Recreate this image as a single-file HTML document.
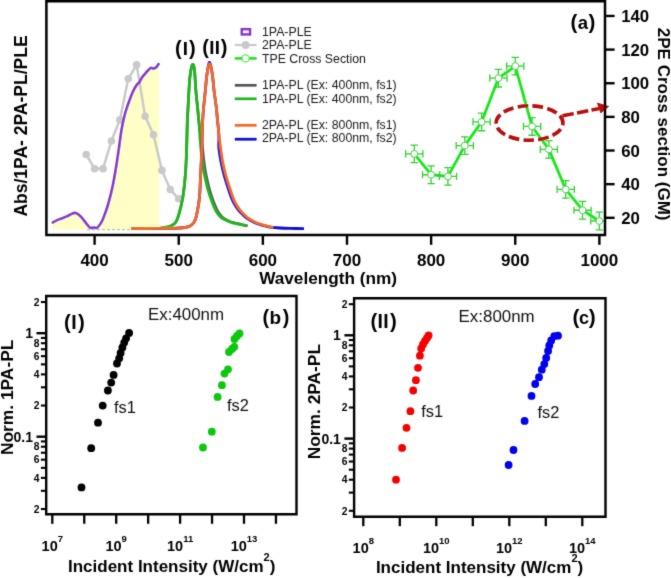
<!DOCTYPE html>
<html><head><meta charset="utf-8"><style>
html,body{margin:0;padding:0;background:#fff;width:671px;height:578px;overflow:hidden}
svg{display:block;will-change:transform}
#w{}
</style></head><body>
<div id="w"><svg width="671" height="578" viewBox="0 0 671 578"><defs><filter id="bl" x="0" y="0" width="671" height="578" filterUnits="userSpaceOnUse"><feConvolveMatrix order="3" kernelMatrix="0.02 0.08 0.02 0.08 0.6 0.08 0.02 0.08 0.02" edgeMode="duplicate" preserveAlpha="false"/></filter></defs><rect width="671" height="578" fill="#fff"/><g filter="url(#bl)"><path d="M52.80,222.60 C53.40,222.27 54.93,221.28 56.40,220.60 C57.87,219.92 59.85,219.20 61.60,218.50 C63.35,217.80 65.33,217.10 66.90,216.40 C68.47,215.70 69.70,214.88 71.00,214.30 C72.30,213.72 73.48,212.90 74.70,212.90 C75.92,212.90 77.17,213.55 78.30,214.30 C79.43,215.05 80.28,216.02 81.50,217.40 C82.72,218.78 84.22,220.90 85.60,222.60 C86.98,224.30 88.40,226.78 89.80,227.60 C91.20,228.42 92.78,227.47 94.00,227.50 C95.22,227.53 96.07,228.35 97.10,227.80 C98.13,227.25 99.25,225.58 100.20,224.20 C101.15,222.82 101.97,221.33 102.80,219.50 C103.63,217.67 104.42,215.37 105.20,213.20 C105.98,211.03 106.78,208.80 107.50,206.50 C108.22,204.20 108.82,201.98 109.50,199.40 C110.18,196.82 110.93,193.90 111.60,191.00 C112.27,188.10 112.68,186.38 113.50,182.00 C114.32,177.62 115.57,170.48 116.50,164.70 C117.43,158.92 118.27,153.08 119.10,147.30 C119.93,141.52 120.58,135.32 121.50,130.00 C122.42,124.68 123.68,119.15 124.60,115.40 C125.52,111.65 126.25,109.82 127.00,107.50 C127.75,105.18 128.12,104.12 129.10,101.50 C130.08,98.88 131.63,94.57 132.90,91.80 C134.17,89.03 135.62,86.50 136.70,84.90 C137.78,83.30 138.52,83.43 139.40,82.20 C140.28,80.97 141.00,78.97 142.00,77.50 C143.00,76.03 144.40,74.57 145.40,73.40 C146.40,72.23 147.08,71.42 148.00,70.50 C148.92,69.58 150.07,68.22 150.90,67.90 C151.73,67.58 152.37,68.55 153.00,68.60 C153.63,68.65 154.12,68.43 154.70,68.20 C155.28,67.97 155.85,67.90 156.50,67.20 C157.15,66.50 158.25,64.53 158.60,64.00 L159.2,64 L159.2,229.4 L52.3,229.4 Z" fill="#fffec6" stroke="none"/>
<path d="M87,229.6 L131,229.6" stroke="#9bbf8f" stroke-width="1.3" stroke-dasharray="3,2" fill="none" opacity="0.8"/>
<path d="M86.19,154.50 L94.60,168.80 L103.01,168.80 L111.43,141.00 L119.84,119.90 L128.25,78.80 L136.66,64.80 L145.08,116.20 L153.49,134.70 L161.90,170.40 L170.32,189.50 L178.73,198.80" stroke="#c9c9c9" stroke-width="2.5" fill="none"/>
<circle cx="86.19" cy="154.50" r="3.8" fill="#c9c9c9"/>
<circle cx="94.60" cy="168.80" r="3.8" fill="#c9c9c9"/>
<circle cx="103.01" cy="168.80" r="3.8" fill="#c9c9c9"/>
<circle cx="111.43" cy="141.00" r="3.8" fill="#c9c9c9"/>
<circle cx="119.84" cy="119.90" r="3.8" fill="#c9c9c9"/>
<circle cx="128.25" cy="78.80" r="3.8" fill="#c9c9c9"/>
<circle cx="136.66" cy="64.80" r="3.8" fill="#c9c9c9"/>
<circle cx="145.08" cy="116.20" r="3.8" fill="#c9c9c9"/>
<circle cx="153.49" cy="134.70" r="3.8" fill="#c9c9c9"/>
<circle cx="161.90" cy="170.40" r="3.8" fill="#c9c9c9"/>
<circle cx="170.32" cy="189.50" r="3.8" fill="#c9c9c9"/>
<circle cx="178.73" cy="198.80" r="3.8" fill="#c9c9c9"/>
<path d="M52.80,222.60 C53.40,222.27 54.93,221.28 56.40,220.60 C57.87,219.92 59.85,219.20 61.60,218.50 C63.35,217.80 65.33,217.10 66.90,216.40 C68.47,215.70 69.70,214.88 71.00,214.30 C72.30,213.72 73.48,212.90 74.70,212.90 C75.92,212.90 77.17,213.55 78.30,214.30 C79.43,215.05 80.28,216.02 81.50,217.40 C82.72,218.78 84.22,220.90 85.60,222.60 C86.98,224.30 88.40,226.78 89.80,227.60 C91.20,228.42 92.78,227.47 94.00,227.50 C95.22,227.53 96.07,228.35 97.10,227.80 C98.13,227.25 99.25,225.58 100.20,224.20 C101.15,222.82 101.97,221.33 102.80,219.50 C103.63,217.67 104.42,215.37 105.20,213.20 C105.98,211.03 106.78,208.80 107.50,206.50 C108.22,204.20 108.82,201.98 109.50,199.40 C110.18,196.82 110.93,193.90 111.60,191.00 C112.27,188.10 112.68,186.38 113.50,182.00 C114.32,177.62 115.57,170.48 116.50,164.70 C117.43,158.92 118.27,153.08 119.10,147.30 C119.93,141.52 120.58,135.32 121.50,130.00 C122.42,124.68 123.68,119.15 124.60,115.40 C125.52,111.65 126.25,109.82 127.00,107.50 C127.75,105.18 128.12,104.12 129.10,101.50 C130.08,98.88 131.63,94.57 132.90,91.80 C134.17,89.03 135.62,86.50 136.70,84.90 C137.78,83.30 138.52,83.43 139.40,82.20 C140.28,80.97 141.00,78.97 142.00,77.50 C143.00,76.03 144.40,74.57 145.40,73.40 C146.40,72.23 147.08,71.42 148.00,70.50 C148.92,69.58 150.07,68.22 150.90,67.90 C151.73,67.58 152.37,68.55 153.00,68.60 C153.63,68.65 154.12,68.43 154.70,68.20 C155.28,67.97 155.85,67.90 156.50,67.20 C157.15,66.50 158.25,64.53 158.60,64.00" stroke="#8334d4" stroke-width="2.6" fill="none" stroke-linejoin="round" stroke-linecap="round"/>
<path d="M160.00,228.20 C161.00,228.05 164.33,227.60 166.00,227.30 C167.67,227.00 168.83,226.82 170.00,226.40 C171.17,225.98 172.08,225.45 173.00,224.80 C173.92,224.15 174.75,223.55 175.50,222.50 C176.25,221.45 176.83,220.25 177.50,218.50 C178.17,216.75 178.83,214.42 179.50,212.00 C180.17,209.58 180.88,206.83 181.50,204.00 C182.12,201.17 182.67,198.67 183.20,195.00 C183.73,191.33 184.28,186.17 184.70,182.00 C185.12,177.83 185.38,175.33 185.70,170.00 C186.02,164.67 186.33,157.95 186.60,150.00 C186.87,142.05 187.05,129.52 187.30,122.30 C187.55,115.08 187.83,111.88 188.10,106.70 C188.37,101.52 188.57,96.38 188.90,91.20 C189.23,86.02 189.53,80.02 190.10,75.60 C190.67,71.18 191.58,65.75 192.30,64.70 C193.02,63.65 193.80,64.88 194.40,69.30 C195.00,73.72 195.38,84.97 195.90,91.20 C196.42,97.43 196.98,101.52 197.50,106.70 C198.02,111.88 198.22,115.92 199.00,122.30 C199.78,128.68 201.40,138.72 202.20,145.00 C203.00,151.28 203.28,155.77 203.80,160.00 C204.32,164.23 204.70,166.93 205.30,170.40 C205.90,173.87 206.62,177.33 207.40,180.80 C208.18,184.27 208.97,187.73 210.00,191.20 C211.03,194.67 212.30,198.27 213.60,201.60 C214.90,204.93 216.42,208.70 217.80,211.20 C219.18,213.70 220.43,215.17 221.90,216.60 C223.37,218.03 224.80,218.83 226.60,219.80 C228.40,220.77 230.25,221.63 232.70,222.40 C235.15,223.17 238.80,223.83 241.30,224.40 C243.80,224.97 246.63,225.57 247.70,225.80" stroke="#555555" stroke-width="2.6" fill="none" stroke-linejoin="round"/>
<path d="M160.00,228.20 C161.00,228.05 164.33,227.60 166.00,227.30 C167.67,227.00 168.83,226.82 170.00,226.40 C171.17,225.98 172.08,225.45 173.00,224.80 C173.92,224.15 174.75,223.55 175.50,222.50 C176.25,221.45 176.83,220.25 177.50,218.50 C178.17,216.75 178.83,214.42 179.50,212.00 C180.17,209.58 180.88,206.83 181.50,204.00 C182.12,201.17 182.67,198.67 183.20,195.00 C183.73,191.33 184.28,186.17 184.70,182.00 C185.12,177.83 185.38,175.33 185.70,170.00 C186.02,164.67 186.33,157.95 186.60,150.00 C186.87,142.05 187.05,129.52 187.30,122.30 C187.55,115.08 187.83,111.88 188.10,106.70 C188.37,101.52 188.57,96.38 188.90,91.20 C189.23,86.02 189.53,80.02 190.10,75.60 C190.67,71.18 191.58,65.75 192.30,64.70 C193.02,63.65 193.80,64.88 194.40,69.30 C195.00,73.72 195.38,84.97 195.90,91.20 C196.42,97.43 196.98,101.52 197.50,106.70 C198.02,111.88 198.48,115.92 199.00,122.30 C199.52,128.68 200.07,138.72 200.60,145.00 C201.13,151.28 201.68,155.77 202.20,160.00 C202.72,164.23 203.10,166.93 203.70,170.40 C204.30,173.87 205.02,177.33 205.80,180.80 C206.58,184.27 207.37,187.73 208.40,191.20 C209.43,194.67 210.70,198.27 212.00,201.60 C213.30,204.93 214.82,208.70 216.20,211.20 C217.58,213.70 218.83,215.17 220.30,216.60 C221.77,218.03 223.20,218.83 225.00,219.80 C226.80,220.77 228.65,221.63 231.10,222.40 C233.55,223.17 237.20,223.83 239.70,224.40 C242.20,224.97 245.03,225.57 246.10,225.80" stroke="#22b422" stroke-width="2.9" fill="none" stroke-linejoin="round"/>
<path d="M131.00,228.60 C135.83,228.57 153.17,228.45 160.00,228.40 C166.83,228.35 168.67,228.37 172.00,228.30 C175.33,228.23 177.83,228.13 180.00,228.00 C182.17,227.87 183.58,227.73 185.00,227.50 C186.42,227.27 187.42,227.02 188.50,226.60 C189.58,226.18 190.58,225.72 191.50,225.00 C192.42,224.28 193.25,223.55 194.00,222.30 C194.75,221.05 195.43,219.38 196.00,217.50 C196.57,215.62 196.93,213.42 197.40,211.00 C197.87,208.58 198.40,206.00 198.80,203.00 C199.20,200.00 199.53,196.83 199.80,193.00 C200.07,189.17 200.18,184.67 200.40,180.00 C200.62,175.33 200.87,170.00 201.10,165.00 C201.33,160.00 201.55,157.12 201.80,150.00 C202.05,142.88 202.28,129.52 202.60,122.30 C202.92,115.08 203.25,111.88 203.70,106.70 C204.15,101.52 204.78,96.38 205.30,91.20 C205.82,86.02 206.15,80.37 206.80,75.60 C207.45,70.83 208.42,63.65 209.20,62.60 C209.98,61.55 210.87,66.40 211.50,69.30 C212.13,72.20 212.57,76.35 213.00,80.00 C213.43,83.65 213.57,86.75 214.10,91.20 C214.63,95.65 215.63,101.90 216.20,106.70 C216.77,111.50 217.07,115.48 217.50,120.00 C217.93,124.52 218.57,129.18 218.80,133.80 C219.03,138.42 218.53,143.08 218.90,147.70 C219.27,152.32 220.13,156.95 221.00,161.50 C221.87,166.05 222.92,170.58 224.10,175.00 C225.28,179.42 226.72,183.83 228.10,188.00 C229.48,192.17 231.02,196.78 232.40,200.00 C233.78,203.22 234.98,205.15 236.40,207.30 C237.82,209.45 239.18,211.08 240.90,212.90 C242.62,214.72 244.48,216.60 246.70,218.20 C248.92,219.80 251.83,221.38 254.20,222.50 C256.57,223.62 258.87,224.27 260.90,224.90 C262.93,225.53 264.63,225.90 266.40,226.30 C268.17,226.70 269.23,227.02 271.50,227.30 C273.77,227.58 276.92,227.82 280.00,228.00 C283.08,228.18 286.00,228.30 290.00,228.40 C294.00,228.50 301.67,228.57 304.00,228.60" stroke="#0a0ad8" stroke-width="2.8" fill="none" stroke-linejoin="round"/>
<path d="M131.00,228.60 C135.83,228.57 153.17,228.45 160.00,228.40 C166.83,228.35 168.67,228.37 172.00,228.30 C175.33,228.23 177.83,228.13 180.00,228.00 C182.17,227.87 183.58,227.73 185.00,227.50 C186.42,227.27 187.42,227.02 188.50,226.60 C189.58,226.18 190.58,225.72 191.50,225.00 C192.42,224.28 193.25,223.55 194.00,222.30 C194.75,221.05 195.43,219.38 196.00,217.50 C196.57,215.62 196.93,213.42 197.40,211.00 C197.87,208.58 198.40,206.00 198.80,203.00 C199.20,200.00 199.53,196.83 199.80,193.00 C200.07,189.17 200.18,184.67 200.40,180.00 C200.62,175.33 200.87,170.00 201.10,165.00 C201.33,160.00 201.55,157.12 201.80,150.00 C202.05,142.88 202.28,129.52 202.60,122.30 C202.92,115.08 203.25,111.88 203.70,106.70 C204.15,101.52 204.78,96.38 205.30,91.20 C205.82,86.02 206.15,80.10 206.80,75.60 C207.45,71.10 208.42,65.25 209.20,64.20 C209.98,63.15 210.87,66.67 211.50,69.30 C212.13,71.93 212.57,76.35 213.00,80.00 C213.43,83.65 213.57,86.75 214.10,91.20 C214.63,95.65 215.63,101.90 216.20,106.70 C216.77,111.50 217.07,115.48 217.50,120.00 C217.93,124.52 218.30,129.18 218.80,133.80 C219.30,138.42 219.87,143.08 220.50,147.70 C221.13,152.32 221.73,156.95 222.60,161.50 C223.47,166.05 224.52,170.58 225.70,175.00 C226.88,179.42 228.32,183.83 229.70,188.00 C231.08,192.17 232.62,196.78 234.00,200.00 C235.38,203.22 236.58,205.15 238.00,207.30 C239.42,209.45 240.78,211.08 242.50,212.90 C244.22,214.72 246.08,216.60 248.30,218.20 C250.52,219.80 253.43,221.38 255.80,222.50 C258.17,223.62 260.47,224.27 262.50,224.90 C264.53,225.53 266.23,225.90 268.00,226.30 C269.77,226.70 272.25,227.13 273.10,227.30" stroke="#f26a24" stroke-width="2.8" fill="none" stroke-linejoin="round"/>
<defs><clipPath id="ca"><rect x="46" y="1" width="559" height="234"/></clipPath></defs><g clip-path="url(#ca)">
<path d="M414.29,153.88 L431.12,174.74 L447.95,176.42 L464.77,145.64 L481.60,121.93 L498.42,78.19 L515.25,66.08 L532.08,126.47 L548.90,149.34 L565.73,189.37 L582.55,210.23 L599.38,221.00" stroke="#18e818" stroke-width="2.8" fill="none" stroke-linejoin="round"/>
<g stroke="#30d030" stroke-width="1.3" fill="none">
<path d="M405.69,153.88 H422.89 M414.29,145.08 V162.68 M405.69,150.28 V157.48 M422.89,150.28 V157.48"/>
<path d="M410.59,145.08 H417.99 M410.59,162.68 H417.99"/>
</g>
<circle cx="414.29" cy="153.88" r="3.4" fill="#fff" stroke="#30d030" stroke-width="1.0"/>
<g stroke="#30d030" stroke-width="1.3" fill="none">
<path d="M422.52,174.74 H439.72 M431.12,165.94 V183.54 M422.52,171.14 V178.34 M439.72,171.14 V178.34"/>
<path d="M427.42,165.94 H434.82 M427.42,183.54 H434.82"/>
</g>
<circle cx="431.12" cy="174.74" r="3.4" fill="#fff" stroke="#30d030" stroke-width="1.0"/>
<g stroke="#30d030" stroke-width="1.3" fill="none">
<path d="M439.35,176.42 H456.55 M447.95,167.62 V185.22 M439.35,172.82 V180.02 M456.55,172.82 V180.02"/>
<path d="M444.25,167.62 H451.65 M444.25,185.22 H451.65"/>
</g>
<circle cx="447.95" cy="176.42" r="3.4" fill="#fff" stroke="#30d030" stroke-width="1.0"/>
<g stroke="#30d030" stroke-width="1.3" fill="none">
<path d="M456.17,145.64 H473.37 M464.77,136.84 V154.44 M456.17,142.04 V149.24 M473.37,142.04 V149.24"/>
<path d="M461.07,136.84 H468.47 M461.07,154.44 H468.47"/>
</g>
<circle cx="464.77" cy="145.64" r="3.4" fill="#fff" stroke="#30d030" stroke-width="1.0"/>
<g stroke="#30d030" stroke-width="1.3" fill="none">
<path d="M473.00,121.93 H490.20 M481.60,113.13 V130.73 M473.00,118.33 V125.53 M490.20,118.33 V125.53"/>
<path d="M477.90,113.13 H485.30 M477.90,130.73 H485.30"/>
</g>
<circle cx="481.60" cy="121.93" r="3.4" fill="#fff" stroke="#30d030" stroke-width="1.0"/>
<g stroke="#30d030" stroke-width="1.3" fill="none">
<path d="M489.82,78.19 H507.02 M498.42,69.39 V86.99 M489.82,74.59 V81.79 M507.02,74.59 V81.79"/>
<path d="M494.72,69.39 H502.12 M494.72,86.99 H502.12"/>
</g>
<circle cx="498.42" cy="78.19" r="3.4" fill="#fff" stroke="#30d030" stroke-width="1.0"/>
<g stroke="#30d030" stroke-width="1.3" fill="none">
<path d="M506.65,66.08 H523.85 M515.25,57.28 V74.88 M506.65,62.48 V69.68 M523.85,62.48 V69.68"/>
<path d="M511.55,57.28 H518.95 M511.55,74.88 H518.95"/>
</g>
<circle cx="515.25" cy="66.08" r="3.4" fill="#fff" stroke="#30d030" stroke-width="1.0"/>
<g stroke="#30d030" stroke-width="1.3" fill="none">
<path d="M523.48,126.47 H540.68 M532.08,117.67 V135.27 M523.48,122.87 V130.07 M540.68,122.87 V130.07"/>
<path d="M528.38,117.67 H535.78 M528.38,135.27 H535.78"/>
</g>
<circle cx="532.08" cy="126.47" r="3.4" fill="#fff" stroke="#30d030" stroke-width="1.0"/>
<g stroke="#30d030" stroke-width="1.3" fill="none">
<path d="M540.30,149.34 H557.50 M548.90,140.54 V158.14 M540.30,145.74 V152.94 M557.50,145.74 V152.94"/>
<path d="M545.20,140.54 H552.60 M545.20,158.14 H552.60"/>
</g>
<circle cx="548.90" cy="149.34" r="3.4" fill="#fff" stroke="#30d030" stroke-width="1.0"/>
<g stroke="#30d030" stroke-width="1.3" fill="none">
<path d="M557.13,189.37 H574.33 M565.73,180.57 V198.17 M557.13,185.77 V192.97 M574.33,185.77 V192.97"/>
<path d="M562.03,180.57 H569.43 M562.03,198.17 H569.43"/>
</g>
<circle cx="565.73" cy="189.37" r="3.4" fill="#fff" stroke="#30d030" stroke-width="1.0"/>
<g stroke="#30d030" stroke-width="1.3" fill="none">
<path d="M573.95,210.23 H591.15 M582.55,201.43 V219.03 M573.95,206.63 V213.83 M591.15,206.63 V213.83"/>
<path d="M578.85,201.43 H586.25 M578.85,219.03 H586.25"/>
</g>
<circle cx="582.55" cy="210.23" r="3.4" fill="#fff" stroke="#30d030" stroke-width="1.0"/>
<g stroke="#30d030" stroke-width="1.3" fill="none">
<path d="M590.78,221.00 H607.98 M599.38,212.20 V229.80 M590.78,217.40 V224.60 M607.98,217.40 V224.60"/>
<path d="M595.68,212.20 H603.08 M595.68,229.80 H603.08"/>
</g>
<circle cx="599.38" cy="221.00" r="3.4" fill="#fff" stroke="#30d030" stroke-width="1.0"/>
</g>
<ellipse cx="529.5" cy="123.0" rx="33.4" ry="17.2" fill="none" stroke="#b80808" stroke-width="3.6" stroke-dasharray="10.5,4.3" stroke-dashoffset="-6.6"/>
<path d="M562.5,115.8 L599,108.6" stroke="#b80808" stroke-width="3.5" stroke-dasharray="11.4,3.4" fill="none"/>
<path d="M609.2,106.3 L596.8,102.6 L600.6,113.4 Z" fill="#b80808"/>
<path d="M46.4,1.3 H605 V235.0 H46.4 Z" fill="none" stroke="#000" stroke-width="2.5"/>
<line x1="94.60" y1="235" x2="94.60" y2="244.8" stroke="#000" stroke-width="2.4"/>
<text x="94.60" y="266.2" text-anchor="middle" style="font-family:'Liberation Sans',sans-serif;font-weight:bold;font-size:17px">400</text>
<line x1="178.73" y1="235" x2="178.73" y2="244.8" stroke="#000" stroke-width="2.4"/>
<text x="178.73" y="266.2" text-anchor="middle" style="font-family:'Liberation Sans',sans-serif;font-weight:bold;font-size:17px">500</text>
<line x1="262.86" y1="235" x2="262.86" y2="244.8" stroke="#000" stroke-width="2.4"/>
<text x="262.86" y="266.2" text-anchor="middle" style="font-family:'Liberation Sans',sans-serif;font-weight:bold;font-size:17px">600</text>
<line x1="346.99" y1="235" x2="346.99" y2="244.8" stroke="#000" stroke-width="2.4"/>
<text x="346.99" y="266.2" text-anchor="middle" style="font-family:'Liberation Sans',sans-serif;font-weight:bold;font-size:17px">700</text>
<line x1="431.12" y1="235" x2="431.12" y2="244.8" stroke="#000" stroke-width="2.4"/>
<text x="431.12" y="266.2" text-anchor="middle" style="font-family:'Liberation Sans',sans-serif;font-weight:bold;font-size:17px">800</text>
<line x1="515.25" y1="235" x2="515.25" y2="244.8" stroke="#000" stroke-width="2.4"/>
<text x="515.25" y="266.2" text-anchor="middle" style="font-family:'Liberation Sans',sans-serif;font-weight:bold;font-size:17px">900</text>
<line x1="599.38" y1="235" x2="599.38" y2="244.8" stroke="#000" stroke-width="2.4"/>
<text x="599.38" y="266.2" text-anchor="middle" style="font-family:'Liberation Sans',sans-serif;font-weight:bold;font-size:17px">1000</text>
<line x1="605" y1="217.80" x2="614.6" y2="217.80" stroke="#000" stroke-width="2.4"/>
<text x="621.2" y="223.90" style="font-family:'Liberation Sans',sans-serif;font-weight:bold;font-size:16.8px">20</text>
<line x1="605" y1="184.16" x2="614.6" y2="184.16" stroke="#000" stroke-width="2.4"/>
<text x="621.2" y="190.26" style="font-family:'Liberation Sans',sans-serif;font-weight:bold;font-size:16.8px">40</text>
<line x1="605" y1="150.52" x2="614.6" y2="150.52" stroke="#000" stroke-width="2.4"/>
<text x="621.2" y="156.62" style="font-family:'Liberation Sans',sans-serif;font-weight:bold;font-size:16.8px">60</text>
<line x1="605" y1="116.88" x2="614.6" y2="116.88" stroke="#000" stroke-width="2.4"/>
<text x="621.2" y="122.98" style="font-family:'Liberation Sans',sans-serif;font-weight:bold;font-size:16.8px">80</text>
<line x1="605" y1="83.24" x2="614.6" y2="83.24" stroke="#000" stroke-width="2.4"/>
<text x="621.2" y="89.34" style="font-family:'Liberation Sans',sans-serif;font-weight:bold;font-size:16.8px">100</text>
<line x1="605" y1="49.60" x2="614.6" y2="49.60" stroke="#000" stroke-width="2.4"/>
<text x="621.2" y="55.70" style="font-family:'Liberation Sans',sans-serif;font-weight:bold;font-size:16.8px">120</text>
<line x1="605" y1="15.96" x2="614.6" y2="15.96" stroke="#000" stroke-width="2.4"/>
<text x="621.2" y="22.06" style="font-family:'Liberation Sans',sans-serif;font-weight:bold;font-size:16.8px">140</text>
<text x="328.1" y="283.5" text-anchor="middle" style="font-family:'Liberation Sans',sans-serif;font-weight:bold;font-size:17.2px">Wavelength (nm)</text>
<text transform="translate(26.9,216.6) rotate(-90)" style="font-family:'Liberation Sans',sans-serif;font-weight:bold;font-size:17.5px">Abs/1PA- 2PA-PL/PLE</text>
<text transform="translate(658.4,27.8) rotate(90)" style="font-family:'Liberation Sans',sans-serif;font-weight:bold;font-size:17px">2PE Cross section (GM)</text>
<text x="175.00" y="54.80" style="font-family:'Liberation Sans',sans-serif;font-weight:bold;font-size:20.0px">(</text>
<text x="182.80" y="54.80" style="font-family:'Liberation Sans',sans-serif;font-weight:bold;font-size:18.8px">I</text>
<text x="189.00" y="54.80" style="font-family:'Liberation Sans',sans-serif;font-weight:bold;font-size:20.0px">)</text>
<text x="202.30" y="53.50" style="font-family:'Liberation Sans',sans-serif;font-weight:bold;font-size:20.0px">(</text>
<text x="209.20" y="53.50" style="font-family:'Liberation Sans',sans-serif;font-weight:bold;font-size:18.8px">I</text>
<text x="214.70" y="53.50" style="font-family:'Liberation Sans',sans-serif;font-weight:bold;font-size:18.8px">I</text>
<text x="220.70" y="53.50" style="font-family:'Liberation Sans',sans-serif;font-weight:bold;font-size:20.0px">)</text>
<text x="570.60" y="28.80" style="font-family:'Liberation Sans',sans-serif;font-weight:bold;font-size:20.6px">(</text>
<text x="577.70" y="28.80" style="font-family:'Liberation Sans',sans-serif;font-weight:bold;font-size:18.5px">a</text>
<text x="588.40" y="28.80" style="font-family:'Liberation Sans',sans-serif;font-weight:bold;font-size:20.6px">)</text>
<text x="262.00" y="36.10" style="font-family:'Liberation Sans',sans-serif;font-size:12.3px;fill:#1a1a1a">1PA-PLE</text>
<text x="262.00" y="49.40" style="font-family:'Liberation Sans',sans-serif;font-size:12.3px;fill:#1a1a1a">2PA-PLE</text>
<text x="262.00" y="62.70" style="font-family:'Liberation Sans',sans-serif;font-size:12.3px;fill:#1a1a1a">TPE Cross Section</text>
<text x="262.00" y="89.40" style="font-family:'Liberation Sans',sans-serif;font-size:12.3px;fill:#1a1a1a">1PA-PL (Ex: 400nm, fs1)</text>
<text x="262.00" y="102.60" style="font-family:'Liberation Sans',sans-serif;font-size:12.3px;fill:#1a1a1a">1PA-PL (Ex: 400nm, fs2)</text>
<text x="262.00" y="129.10" style="font-family:'Liberation Sans',sans-serif;font-size:12.3px;fill:#1a1a1a">2PA-PL (Ex: 800nm, fs1)</text>
<text x="262.00" y="142.30" style="font-family:'Liberation Sans',sans-serif;font-size:12.3px;fill:#1a1a1a">2PA-PL (Ex: 800nm, fs2)</text>
<rect x="241.8" y="29.2" width="8.2" height="5.2" fill="#fff" stroke="#8334d4" stroke-width="2.5"/>
<line x1="234.8" y1="45" x2="256.6" y2="45" stroke="#c9c9c9" stroke-width="2.2"/>
<circle cx="245.6" cy="45" r="3.9" fill="#c9c9c9"/>
<line x1="234.8" y1="58.4" x2="256.6" y2="58.4" stroke="#18e818" stroke-width="2.6"/>
<circle cx="245.6" cy="58.4" r="3.6" fill="#fff" stroke="#18e818" stroke-width="1.1"/>
<line x1="234.8" y1="85.30" x2="256.6" y2="85.30" stroke="#555555" stroke-width="2.7"/>
<line x1="234.8" y1="98.80" x2="256.6" y2="98.80" stroke="#22b422" stroke-width="2.7"/>
<line x1="234.8" y1="125.30" x2="256.6" y2="125.30" stroke="#f26a24" stroke-width="2.7"/>
<line x1="234.8" y1="139.20" x2="256.6" y2="139.20" stroke="#0a0ad8" stroke-width="2.7"/>
<path d="M46.20,296.00 H296.50 V514.30 H46.20 Z" fill="none" stroke="#000" stroke-width="2.4"/>
<line x1="40.90" y1="509.04" x2="46.20" y2="509.04" stroke="#000" stroke-width="2.1"/>
<text x="39.60" y="512.74" text-anchor="end" style="font-family:'Liberation Sans',sans-serif;font-weight:bold;font-size:10.3px">2</text>
<line x1="40.90" y1="490.82" x2="46.20" y2="490.82" stroke="#000" stroke-width="2.1"/>
<line x1="40.90" y1="477.89" x2="46.20" y2="477.89" stroke="#000" stroke-width="2.1"/>
<text x="39.60" y="481.59" text-anchor="end" style="font-family:'Liberation Sans',sans-serif;font-weight:bold;font-size:10.3px">4</text>
<line x1="40.90" y1="467.86" x2="46.20" y2="467.86" stroke="#000" stroke-width="2.1"/>
<line x1="40.90" y1="459.66" x2="46.20" y2="459.66" stroke="#000" stroke-width="2.1"/>
<text x="39.60" y="463.36" text-anchor="end" style="font-family:'Liberation Sans',sans-serif;font-weight:bold;font-size:10.3px">6</text>
<line x1="40.90" y1="452.73" x2="46.20" y2="452.73" stroke="#000" stroke-width="2.1"/>
<line x1="40.90" y1="446.73" x2="46.20" y2="446.73" stroke="#000" stroke-width="2.1"/>
<text x="39.60" y="450.43" text-anchor="end" style="font-family:'Liberation Sans',sans-serif;font-weight:bold;font-size:10.3px">8</text>
<line x1="40.90" y1="441.44" x2="46.20" y2="441.44" stroke="#000" stroke-width="2.1"/>
<line x1="36.50" y1="436.70" x2="46.20" y2="436.70" stroke="#000" stroke-width="2.4"/>
<text x="33.00" y="441.70" text-anchor="end" style="font-family:'Liberation Sans',sans-serif;font-weight:bold;font-size:14px">0.1</text>
<line x1="40.90" y1="405.54" x2="46.20" y2="405.54" stroke="#000" stroke-width="2.1"/>
<text x="39.60" y="409.24" text-anchor="end" style="font-family:'Liberation Sans',sans-serif;font-weight:bold;font-size:10.3px">2</text>
<line x1="40.90" y1="387.32" x2="46.20" y2="387.32" stroke="#000" stroke-width="2.1"/>
<line x1="40.90" y1="374.39" x2="46.20" y2="374.39" stroke="#000" stroke-width="2.1"/>
<text x="39.60" y="378.09" text-anchor="end" style="font-family:'Liberation Sans',sans-serif;font-weight:bold;font-size:10.3px">4</text>
<line x1="40.90" y1="364.36" x2="46.20" y2="364.36" stroke="#000" stroke-width="2.1"/>
<line x1="40.90" y1="356.16" x2="46.20" y2="356.16" stroke="#000" stroke-width="2.1"/>
<text x="39.60" y="359.86" text-anchor="end" style="font-family:'Liberation Sans',sans-serif;font-weight:bold;font-size:10.3px">6</text>
<line x1="40.90" y1="349.23" x2="46.20" y2="349.23" stroke="#000" stroke-width="2.1"/>
<line x1="40.90" y1="343.23" x2="46.20" y2="343.23" stroke="#000" stroke-width="2.1"/>
<text x="39.60" y="346.93" text-anchor="end" style="font-family:'Liberation Sans',sans-serif;font-weight:bold;font-size:10.3px">8</text>
<line x1="40.90" y1="337.94" x2="46.20" y2="337.94" stroke="#000" stroke-width="2.1"/>
<line x1="36.50" y1="333.20" x2="46.20" y2="333.20" stroke="#000" stroke-width="2.4"/>
<text x="33.00" y="338.20" text-anchor="end" style="font-family:'Liberation Sans',sans-serif;font-weight:bold;font-size:14px">1</text>
<line x1="40.90" y1="302.04" x2="46.20" y2="302.04" stroke="#000" stroke-width="2.1"/>
<text x="39.60" y="305.74" text-anchor="end" style="font-family:'Liberation Sans',sans-serif;font-weight:bold;font-size:10.3px">2</text>
<line x1="52.30" y1="514.30" x2="52.30" y2="523.80" stroke="#000" stroke-width="2.3"/>
<text x="52.30" y="550.60" text-anchor="middle" style="font-family:'Liberation Sans',sans-serif;font-weight:bold;font-size:14.5px">10<tspan dy="-8.5" style="font-size:9.5px">7</tspan></text>
<line x1="84.25" y1="514.30" x2="84.25" y2="523.80" stroke="#000" stroke-width="2.3"/>
<line x1="116.20" y1="514.30" x2="116.20" y2="523.80" stroke="#000" stroke-width="2.3"/>
<text x="116.20" y="550.60" text-anchor="middle" style="font-family:'Liberation Sans',sans-serif;font-weight:bold;font-size:14.5px">10<tspan dy="-8.5" style="font-size:9.5px">9</tspan></text>
<line x1="148.15" y1="514.30" x2="148.15" y2="523.80" stroke="#000" stroke-width="2.3"/>
<line x1="180.10" y1="514.30" x2="180.10" y2="523.80" stroke="#000" stroke-width="2.3"/>
<text x="180.10" y="550.60" text-anchor="middle" style="font-family:'Liberation Sans',sans-serif;font-weight:bold;font-size:14.5px">10<tspan dy="-8.5" style="font-size:9.5px">11</tspan></text>
<line x1="212.05" y1="514.30" x2="212.05" y2="523.80" stroke="#000" stroke-width="2.3"/>
<line x1="244.00" y1="514.30" x2="244.00" y2="523.80" stroke="#000" stroke-width="2.3"/>
<text x="244.00" y="550.60" text-anchor="middle" style="font-family:'Liberation Sans',sans-serif;font-weight:bold;font-size:14.5px">10<tspan dy="-8.5" style="font-size:9.5px">13</tspan></text>
<line x1="275.95" y1="514.30" x2="275.95" y2="523.80" stroke="#000" stroke-width="2.3"/>
<text x="68.00" y="571.50" style="font-family:'Liberation Sans',sans-serif;font-weight:bold;font-size:17px">Incident Intensity (W/cm<tspan dy="-11" style="font-size:11px">2</tspan><tspan dy="11">)</tspan></text>
<text transform="translate(12.90,455.00) rotate(-90)" style="font-family:'Liberation Sans',sans-serif;font-weight:bold;font-size:17.35px">Norm. 1PA-PL</text>
<text x="262.60" y="323.80" style="font-family:'Liberation Sans',sans-serif;font-weight:bold;font-size:19.8px">(</text>
<text x="269.40" y="323.80" style="font-family:'Liberation Sans',sans-serif;font-weight:bold;font-size:19.0px">b</text>
<text x="282.80" y="323.80" style="font-family:'Liberation Sans',sans-serif;font-weight:bold;font-size:19.8px">)</text>
<text x="64.10" y="329.20" style="font-family:'Liberation Sans',sans-serif;font-weight:bold;font-size:20.3px">(</text>
<text x="71.20" y="329.20" style="font-family:'Liberation Sans',sans-serif;font-weight:bold;font-size:19.5px">I</text>
<text x="77.90" y="329.20" style="font-family:'Liberation Sans',sans-serif;font-weight:bold;font-size:20.3px">)</text>
<text x="148.00" y="319.80" style="font-family:'Liberation Sans',sans-serif;font-size:16.9px;fill:#111">Ex:400nm</text>
<path d="M354.10,298.20 H605.50 V516.70 H354.10 Z" fill="none" stroke="#000" stroke-width="2.4"/>
<line x1="348.80" y1="510.80" x2="354.10" y2="510.80" stroke="#000" stroke-width="2.1"/>
<text x="347.50" y="514.50" text-anchor="end" style="font-family:'Liberation Sans',sans-serif;font-weight:bold;font-size:10.3px">2</text>
<line x1="348.80" y1="492.61" x2="354.10" y2="492.61" stroke="#000" stroke-width="2.1"/>
<line x1="348.80" y1="479.71" x2="354.10" y2="479.71" stroke="#000" stroke-width="2.1"/>
<text x="347.50" y="483.41" text-anchor="end" style="font-family:'Liberation Sans',sans-serif;font-weight:bold;font-size:10.3px">4</text>
<line x1="348.80" y1="469.70" x2="354.10" y2="469.70" stroke="#000" stroke-width="2.1"/>
<line x1="348.80" y1="461.52" x2="354.10" y2="461.52" stroke="#000" stroke-width="2.1"/>
<text x="347.50" y="465.22" text-anchor="end" style="font-family:'Liberation Sans',sans-serif;font-weight:bold;font-size:10.3px">6</text>
<line x1="348.80" y1="454.60" x2="354.10" y2="454.60" stroke="#000" stroke-width="2.1"/>
<line x1="348.80" y1="448.61" x2="354.10" y2="448.61" stroke="#000" stroke-width="2.1"/>
<text x="347.50" y="452.31" text-anchor="end" style="font-family:'Liberation Sans',sans-serif;font-weight:bold;font-size:10.3px">8</text>
<line x1="348.80" y1="443.33" x2="354.10" y2="443.33" stroke="#000" stroke-width="2.1"/>
<line x1="344.40" y1="438.60" x2="354.10" y2="438.60" stroke="#000" stroke-width="2.4"/>
<text x="340.90" y="443.60" text-anchor="end" style="font-family:'Liberation Sans',sans-serif;font-weight:bold;font-size:14px">0.1</text>
<line x1="348.80" y1="407.50" x2="354.10" y2="407.50" stroke="#000" stroke-width="2.1"/>
<text x="347.50" y="411.20" text-anchor="end" style="font-family:'Liberation Sans',sans-serif;font-weight:bold;font-size:10.3px">2</text>
<line x1="348.80" y1="389.31" x2="354.10" y2="389.31" stroke="#000" stroke-width="2.1"/>
<line x1="348.80" y1="376.41" x2="354.10" y2="376.41" stroke="#000" stroke-width="2.1"/>
<text x="347.50" y="380.11" text-anchor="end" style="font-family:'Liberation Sans',sans-serif;font-weight:bold;font-size:10.3px">4</text>
<line x1="348.80" y1="366.40" x2="354.10" y2="366.40" stroke="#000" stroke-width="2.1"/>
<line x1="348.80" y1="358.22" x2="354.10" y2="358.22" stroke="#000" stroke-width="2.1"/>
<text x="347.50" y="361.92" text-anchor="end" style="font-family:'Liberation Sans',sans-serif;font-weight:bold;font-size:10.3px">6</text>
<line x1="348.80" y1="351.30" x2="354.10" y2="351.30" stroke="#000" stroke-width="2.1"/>
<line x1="348.80" y1="345.31" x2="354.10" y2="345.31" stroke="#000" stroke-width="2.1"/>
<text x="347.50" y="349.01" text-anchor="end" style="font-family:'Liberation Sans',sans-serif;font-weight:bold;font-size:10.3px">8</text>
<line x1="348.80" y1="340.03" x2="354.10" y2="340.03" stroke="#000" stroke-width="2.1"/>
<line x1="344.40" y1="335.30" x2="354.10" y2="335.30" stroke="#000" stroke-width="2.4"/>
<text x="340.90" y="340.30" text-anchor="end" style="font-family:'Liberation Sans',sans-serif;font-weight:bold;font-size:14px">1</text>
<line x1="348.80" y1="304.20" x2="354.10" y2="304.20" stroke="#000" stroke-width="2.1"/>
<text x="347.50" y="307.90" text-anchor="end" style="font-family:'Liberation Sans',sans-serif;font-weight:bold;font-size:10.3px">2</text>
<line x1="363.30" y1="516.70" x2="363.30" y2="526.20" stroke="#000" stroke-width="2.3"/>
<text x="363.30" y="552.60" text-anchor="middle" style="font-family:'Liberation Sans',sans-serif;font-weight:bold;font-size:14.5px">10<tspan dy="-8.5" style="font-size:9.5px">8</tspan></text>
<line x1="399.80" y1="516.70" x2="399.80" y2="526.20" stroke="#000" stroke-width="2.3"/>
<line x1="436.30" y1="516.70" x2="436.30" y2="526.20" stroke="#000" stroke-width="2.3"/>
<text x="436.30" y="552.60" text-anchor="middle" style="font-family:'Liberation Sans',sans-serif;font-weight:bold;font-size:14.5px">10<tspan dy="-8.5" style="font-size:9.5px">10</tspan></text>
<line x1="472.80" y1="516.70" x2="472.80" y2="526.20" stroke="#000" stroke-width="2.3"/>
<line x1="509.30" y1="516.70" x2="509.30" y2="526.20" stroke="#000" stroke-width="2.3"/>
<text x="509.30" y="552.60" text-anchor="middle" style="font-family:'Liberation Sans',sans-serif;font-weight:bold;font-size:14.5px">10<tspan dy="-8.5" style="font-size:9.5px">12</tspan></text>
<line x1="545.80" y1="516.70" x2="545.80" y2="526.20" stroke="#000" stroke-width="2.3"/>
<line x1="582.30" y1="516.70" x2="582.30" y2="526.20" stroke="#000" stroke-width="2.3"/>
<text x="582.30" y="552.60" text-anchor="middle" style="font-family:'Liberation Sans',sans-serif;font-weight:bold;font-size:14.5px">10<tspan dy="-8.5" style="font-size:9.5px">14</tspan></text>
<text x="375.90" y="573.40" style="font-family:'Liberation Sans',sans-serif;font-weight:bold;font-size:17px">Incident Intensity (W/cm<tspan dy="-11" style="font-size:11px">2</tspan><tspan dy="11">)</tspan></text>
<text transform="translate(320.20,459.30) rotate(-90)" style="font-family:'Liberation Sans',sans-serif;font-weight:bold;font-size:17.35px">Norm. 2PA-PL</text>
<text x="572.50" y="324.40" style="font-family:'Liberation Sans',sans-serif;font-weight:bold;font-size:20.8px">(</text>
<text x="579.00" y="324.40" style="font-family:'Liberation Sans',sans-serif;font-weight:bold;font-size:18.0px">c</text>
<text x="588.70" y="324.40" style="font-family:'Liberation Sans',sans-serif;font-weight:bold;font-size:20.8px">)</text>
<text x="370.60" y="328.00" style="font-family:'Liberation Sans',sans-serif;font-weight:bold;font-size:20.3px">(</text>
<text x="377.60" y="328.00" style="font-family:'Liberation Sans',sans-serif;font-weight:bold;font-size:19.4px">I</text>
<text x="383.30" y="328.00" style="font-family:'Liberation Sans',sans-serif;font-weight:bold;font-size:19.4px">I</text>
<text x="390.00" y="328.00" style="font-family:'Liberation Sans',sans-serif;font-weight:bold;font-size:20.3px">)</text>
<text x="458.60" y="321.50" style="font-family:'Liberation Sans',sans-serif;font-size:16.9px;fill:#111">Ex:800nm</text>
<circle cx="81.50" cy="487.40" r="3.9" fill="#000"/>
<circle cx="91.20" cy="448.20" r="3.9" fill="#000"/>
<circle cx="98.00" cy="422.70" r="3.9" fill="#000"/>
<circle cx="102.70" cy="405.60" r="3.9" fill="#000"/>
<circle cx="107.90" cy="390.50" r="3.9" fill="#000"/>
<circle cx="111.20" cy="382.60" r="3.9" fill="#000"/>
<circle cx="113.60" cy="374.90" r="3.9" fill="#000"/>
<circle cx="117.00" cy="363.50" r="3.9" fill="#000"/>
<circle cx="119.20" cy="358.30" r="3.9" fill="#000"/>
<circle cx="120.60" cy="352.90" r="3.9" fill="#000"/>
<circle cx="122.40" cy="347.40" r="3.9" fill="#000"/>
<circle cx="124.20" cy="342.60" r="3.9" fill="#000"/>
<circle cx="126.10" cy="338.30" r="3.9" fill="#000"/>
<circle cx="129.10" cy="332.90" r="3.9" fill="#000"/>
<circle cx="203.00" cy="447.50" r="3.9" fill="#08c808"/>
<circle cx="211.80" cy="431.70" r="3.9" fill="#08c808"/>
<circle cx="217.60" cy="396.90" r="3.9" fill="#08c808"/>
<circle cx="221.90" cy="385.20" r="3.9" fill="#08c808"/>
<circle cx="224.50" cy="373.60" r="3.9" fill="#08c808"/>
<circle cx="228.00" cy="369.30" r="3.9" fill="#08c808"/>
<circle cx="229.00" cy="352.00" r="3.9" fill="#08c808"/>
<circle cx="232.00" cy="349.00" r="3.9" fill="#08c808"/>
<circle cx="234.30" cy="346.80" r="3.9" fill="#08c808"/>
<circle cx="234.50" cy="339.00" r="3.9" fill="#08c808"/>
<circle cx="237.00" cy="336.00" r="3.9" fill="#08c808"/>
<circle cx="239.50" cy="333.50" r="3.9" fill="#08c808"/>
<circle cx="396.00" cy="479.70" r="3.9" fill="#f50505"/>
<circle cx="402.10" cy="447.90" r="3.9" fill="#f50505"/>
<circle cx="406.50" cy="427.80" r="3.9" fill="#f50505"/>
<circle cx="410.40" cy="411.20" r="3.9" fill="#f50505"/>
<circle cx="413.20" cy="390.50" r="3.9" fill="#f50505"/>
<circle cx="415.90" cy="380.20" r="3.9" fill="#f50505"/>
<circle cx="418.00" cy="367.80" r="3.9" fill="#f50505"/>
<circle cx="419.90" cy="355.70" r="3.9" fill="#f50505"/>
<circle cx="421.20" cy="348.50" r="3.9" fill="#f50505"/>
<circle cx="423.00" cy="344.50" r="3.9" fill="#f50505"/>
<circle cx="425.00" cy="341.00" r="3.9" fill="#f50505"/>
<circle cx="427.00" cy="338.00" r="3.9" fill="#f50505"/>
<circle cx="428.60" cy="335.50" r="3.9" fill="#f50505"/>
<circle cx="508.60" cy="465.00" r="3.9" fill="#0505ee"/>
<circle cx="513.50" cy="450.00" r="3.9" fill="#0505ee"/>
<circle cx="524.60" cy="420.90" r="3.9" fill="#0505ee"/>
<circle cx="531.50" cy="395.90" r="3.9" fill="#0505ee"/>
<circle cx="535.20" cy="384.00" r="3.9" fill="#0505ee"/>
<circle cx="539.00" cy="377.20" r="3.9" fill="#0505ee"/>
<circle cx="541.80" cy="369.70" r="3.9" fill="#0505ee"/>
<circle cx="544.30" cy="364.10" r="3.9" fill="#0505ee"/>
<circle cx="546.20" cy="357.90" r="3.9" fill="#0505ee"/>
<circle cx="548.10" cy="351.00" r="3.9" fill="#0505ee"/>
<circle cx="549.30" cy="345.40" r="3.9" fill="#0505ee"/>
<circle cx="551.20" cy="340.50" r="3.9" fill="#0505ee"/>
<circle cx="554.30" cy="336.10" r="3.9" fill="#0505ee"/>
<circle cx="558.00" cy="335.70" r="3.9" fill="#0505ee"/>
<text x="114" y="412.8" style="font-family:'Liberation Sans',sans-serif;font-size:16.4px;fill:#111">fs1</text>
<text x="227" y="410.9" style="font-family:'Liberation Sans',sans-serif;font-size:16.4px;fill:#111">fs2</text>
<text x="421.2" y="416.5" style="font-family:'Liberation Sans',sans-serif;font-size:16.4px;fill:#111">fs1</text>
<text x="537.4" y="417.7" style="font-family:'Liberation Sans',sans-serif;font-size:16.4px;fill:#111">fs2</text></g></svg></div>
</body></html>
